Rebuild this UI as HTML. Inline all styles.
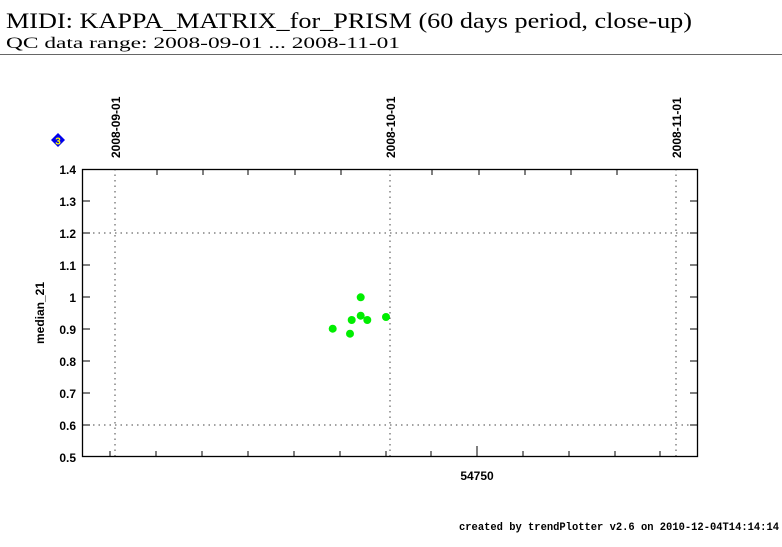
<!DOCTYPE html>
<html><head><meta charset="utf-8"><style>
body{margin:0;background:#fff;width:782px;height:542px;overflow:hidden}
</style></head><body>
<svg width="782" height="542" xmlns="http://www.w3.org/2000/svg" font-family="Liberation Sans, sans-serif">
<text x="6" y="28" font-family="Liberation Serif, serif" font-size="22" textLength="686" lengthAdjust="spacingAndGlyphs">MIDI: KAPPA_MATRIX_for_PRISM (60 days period, close-up)</text>
<text x="6" y="48" font-family="Liberation Serif, serif" font-size="16" textLength="394" lengthAdjust="spacingAndGlyphs">QC data range: 2008-09-01 ... 2008-11-01</text>
<line x1="0" y1="54.5" x2="782" y2="54.5" stroke="#666" stroke-width="1"/>
<g stroke="#444" stroke-dasharray="1.5,4" stroke-width="1">
<line x1="115" y1="169" x2="115" y2="457"/>
<line x1="390" y1="169" x2="390" y2="457"/>
<line x1="676" y1="169" x2="676" y2="457"/>
<line x1="82" y1="233" x2="698" y2="233"/>
<line x1="82" y1="425" x2="698" y2="425"/>
</g>
<rect x="82.5" y="169.5" width="615" height="287" fill="none" stroke="#000" stroke-width="1.3"/>
<g stroke="#000" stroke-width="1">
<path d="M110,457v-6M156,457v-6M202,457v-6M248,457v-6M294,457v-6M340,457v-6M386,457v-6M431,457v-6M477,457v-11M523,457v-6M569,457v-6M615,457v-6M660,457v-6"/>
<path d="M157,169v6M203,169v6M248,169v6M295,169v6M341,169v6M432,169v6M479,169v6M525,169v6M571,169v6M617,169v6"/>
<path d="M82,201h8M82,233h8M82,265h8M82,297h8M82,329h8M82,361h8M82,393h8M82,425h8M698,201h-8M698,233h-8M698,265h-8M698,297h-8M698,329h-8M698,361h-8M698,393h-8M698,425h-8"/>
</g>
<g font-size="12" font-weight="bold" text-anchor="end">
<text x="76" y="174">1.4</text><text x="76" y="206">1.3</text><text x="76" y="238">1.2</text><text x="76" y="270">1.1</text><text x="76" y="302">1</text><text x="76" y="334">0.9</text><text x="76" y="366">0.8</text><text x="76" y="398">0.7</text><text x="76" y="430">0.6</text><text x="76" y="462">0.5</text>
</g>
<text x="477" y="480" font-size="12" font-weight="bold" text-anchor="middle">54750</text>
<text transform="translate(44,313) rotate(-90)" font-size="12" font-weight="bold" text-anchor="middle">median_21</text>
<g font-size="12" font-weight="bold">
<text transform="translate(120,158) rotate(-90)">2008-09-01</text>
<text transform="translate(395,158) rotate(-90)">2008-10-01</text>
<text transform="translate(681,158) rotate(-90)">2008-11-01</text>
</g>
<polygon points="58,133 65,140 58,147 51,140" fill="#0000ee"/>
<text x="58" y="144.5" font-size="10" font-weight="bold" fill="#ffff00" text-anchor="middle">3</text>
<g fill="#00ee00">
<circle cx="332.7" cy="328.7" r="4"/><circle cx="350" cy="333.7" r="4"/><circle cx="351.7" cy="320" r="4"/><circle cx="360.7" cy="297.3" r="4"/><circle cx="360.7" cy="315.7" r="4"/><circle cx="367.3" cy="320" r="4"/><circle cx="386" cy="317" r="4"/>
</g>
<text x="779" y="530" font-size="11" font-weight="bold" text-anchor="end" font-family="Liberation Mono, monospace" textLength="320" lengthAdjust="spacingAndGlyphs">created by trendPlotter v2.6 on 2010-12-04T14:14:14</text>
</svg>
</body></html>
